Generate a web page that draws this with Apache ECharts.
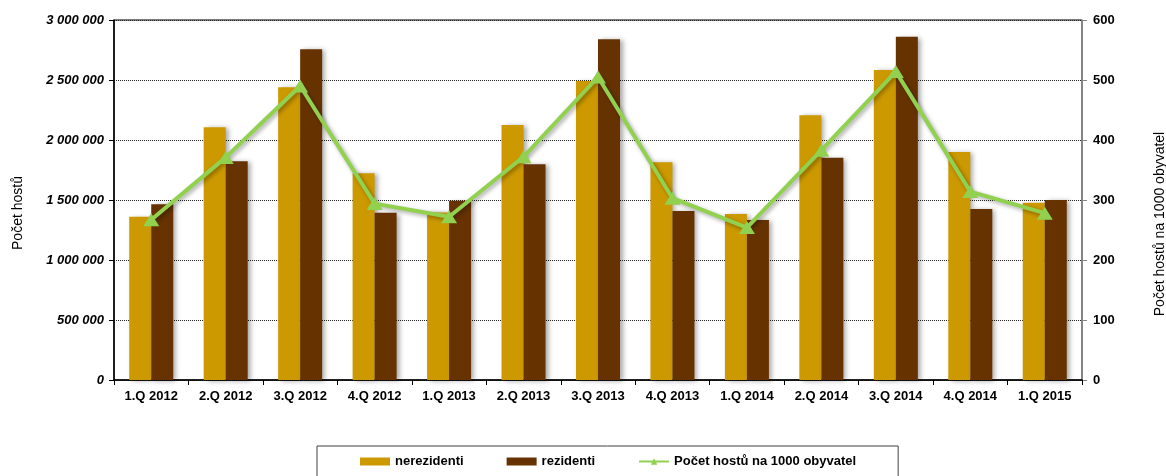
<!DOCTYPE html>
<html>
<head>
<meta charset="utf-8">
<script src="https://cdn.jsdelivr.net/npm/echarts@6/dist/echarts.min.js"></script>
<style>
html,body{margin:0;padding:0;background:#fff;}
#chart{width:1166px;height:476px;}
</style>
</head>
<body>
<div id="chart"></div>
<script>
const categories = ['1.Q 2012','2.Q 2012','3.Q 2012','4.Q 2012','1.Q 2013','2.Q 2013','3.Q 2013','4.Q 2013','1.Q 2014','2.Q 2014','3.Q 2014','4.Q 2014','1.Q 2015'];
const nerezidenti = [1361000, 2106000, 2439000, 1722000, 1396000, 2125000, 2492000, 1814000, 1383000, 2206000, 2583000, 1900000, 1478000];
const rezidenti   = [1464000, 1822000, 2756000, 1394000, 1494000, 1797000, 2839000, 1408000, 1333000, 1853000, 2861000, 1425000, 1500000];
const hostuNa1000 = [267, 371, 490, 294, 272, 372, 505, 303, 254, 383, 514, 314, 278];
const seriesNames = ['nerezidenti', 'rezidenti', 'Počet hostů na 1000 obyvatel'];
const leftAxisName = 'Počet hostů';
const rightAxisName = 'Počet hostů na 1000 obyvatel';

const FONT = '"Liberation Sans", Arial, sans-serif';
const chart = echarts.init(document.getElementById('chart'), null, {renderer: 'canvas'});

function fmtThousands(v) {
  return String(v).replace(/\B(?=(\d{3})+(?!\d))/g, ' ');
}

const barShadow = {shadowColor: 'rgba(0,0,0,0.35)', shadowBlur: 5, shadowOffsetX: 3, shadowOffsetY: 1};

chart.setOption({
  backgroundColor: '#ffffff',
  animation: false,
  textStyle: {fontFamily: FONT},
  grid: {left: 114, right: 84, top: 20, bottom: 96, show: true, borderColor: '#000', borderWidth: 1, backgroundColor: 'transparent'},
  legend: {
    left: 317, top: 446,
    padding: [9, 42, 30, 43],
    itemGap: 43,
    itemWidth: 30, itemHeight: 8,
    borderColor: '#404040', borderWidth: 1,
    textStyle: {fontFamily: FONT, fontSize: 13, fontWeight: 'bold', color: '#000'},
    data: [
      {name: seriesNames[0], icon: 'rect'},
      {name: seriesNames[1], icon: 'rect'},
      {name: seriesNames[2]}
    ]
  },
  xAxis: {
    type: 'category',
    data: categories,
    axisLine: {lineStyle: {color: '#000', width: 1.5}},
    axisTick: {show: true, alignWithLabel: false, length: 5, lineStyle: {color: '#000'}},
    axisLabel: {fontFamily: FONT, fontSize: 13, fontWeight: 'bold', color: '#000', margin: 10, interval: 0},
    splitLine: {show: false}
  },
  yAxis: [
    {
      type: 'value', min: 0, max: 3000000, interval: 500000,
      axisLine: {show: true, lineStyle: {color: '#000', width: 1.5}},
      axisTick: {show: true, length: 5, lineStyle: {color: '#000'}},
      axisLabel: {fontFamily: FONT, fontSize: 13, fontWeight: 'bold', fontStyle: 'italic', color: '#000', margin: 10, formatter: fmtThousands},
      splitLine: {show: true, lineStyle: {color: '#222', type: 'dotted', width: 1}}
    },
    {
      type: 'value', min: 0, max: 600, interval: 100, position: 'right',
      axisLine: {show: true, lineStyle: {color: '#868686', width: 1.5}},
      axisTick: {show: true, length: 5, lineStyle: {color: '#868686'}},
      axisLabel: {fontFamily: FONT, fontSize: 13, fontWeight: 'bold', color: '#000', margin: 11},
      splitLine: {show: false}
    }
  ],
  graphic: [
    {type: 'text', left: 'auto', x: 18, y: 213, rotation: Math.PI / 2,
     style: {text: leftAxisName, fontFamily: FONT, fontSize: 14, fill: '#000', textAlign: 'center', textVerticalAlign: 'middle'}},
    {type: 'text', x: 1160, y: 224, rotation: Math.PI / 2,
     style: {text: rightAxisName, fontFamily: FONT, fontSize: 14, fill: '#000', textAlign: 'center', textVerticalAlign: 'middle'}}
  ],
  series: [
    {
      name: seriesNames[0], type: 'bar', data: nerezidenti, yAxisIndex: 0,
      barWidth: 22, barGap: '0%',
      itemStyle: Object.assign({color: '#CC9900'}, barShadow)
    },
    {
      name: seriesNames[1], type: 'bar', data: rezidenti, yAxisIndex: 0,
      barWidth: 22, barGap: '0%',
      itemStyle: Object.assign({color: '#663300'}, barShadow)
    },
    {
      name: seriesNames[2], type: 'line', data: hostuNa1000, yAxisIndex: 1,
      symbol: 'triangle', symbolSize: [16, 13], showSymbol: true,
      lineStyle: {color: '#92D050', width: 4, shadowColor: 'rgba(0,0,0,0.35)', shadowBlur: 4, shadowOffsetX: 2, shadowOffsetY: 2},
      itemStyle: {color: '#92D050'},
      z: 5
    }
  ]
});
</script>
</body>
</html>
